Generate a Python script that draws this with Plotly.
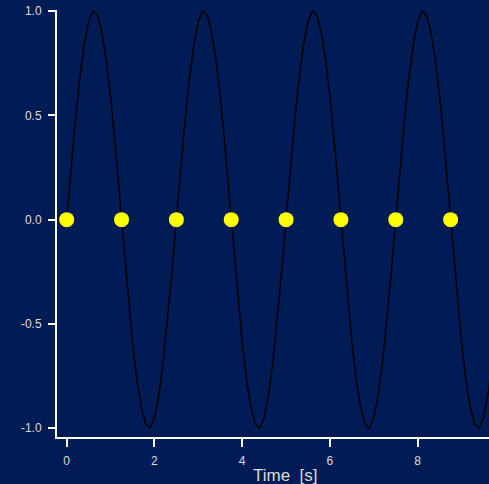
import plotly.graph_objects as go

time_s = [round(i * 0.1, 1) for i in range(101)]
cycle = [0.00, 0.25, 0.48, 0.68, 0.84, 0.95, 1.00, 0.98, 0.90, 0.77, 0.59, 0.37, 0.13,
         -0.13, -0.37, -0.59, -0.77, -0.90, -0.98, -1.00, -0.95, -0.84, -0.68, -0.48, -0.25]
signal = cycle * 4 + [0.00]

# Zero-crossing markers
marker_t = [0.0, 1.25, 2.5, 3.75, 5.0, 6.25, 7.5, 8.75]
marker_y = [0, 0, 0, 0, 0, 0, 0, 0]

x_ticks = [0, 2, 4, 6, 8]
y_ticks = [-1.0, -0.5, 0.0, 0.5, 1.0]
y_tick_labels = ["-1.0", "-0.5", "0.0", "0.5", "1.0"]

BG = "#001b55"
FONT = "Liberation Sans, Arial, sans-serif"

fig = go.Figure()
fig.add_trace(go.Scatter(x=time_s, y=signal, mode="lines",
                         line=dict(color="black", width=1.5), hoverinfo="skip"))
fig.add_trace(go.Scatter(x=marker_t, y=marker_y, mode="markers",
                         marker=dict(color="#ffff00", size=15, line=dict(width=0))))

fig.update_layout(
    width=489, height=484,
    margin=dict(l=57, r=0, t=10, b=47),
    paper_bgcolor=BG, plot_bgcolor=BG,
    showlegend=False,
    font=dict(family=FONT, color="#dcdcdc", size=12),
    xaxis=dict(range=[-0.221, 9.625], tickvals=x_ticks, showgrid=False, zeroline=False,
               showline=True, linecolor="white", linewidth=2,
               ticks="outside", tickcolor="white", tickwidth=2, ticklen=8,
               ticklabelstandoff=4),
    yaxis=dict(range=[-1.042, 1.005], tickvals=y_ticks, ticktext=y_tick_labels,
               showgrid=False, zeroline=False,
               showline=True, linecolor="white", linewidth=2,
               ticks="outside", tickcolor="white", tickwidth=2, ticklen=7,
               ticklabelstandoff=4),
    annotations=[dict(text="Time\u00a0\u00a0[s]", xref="paper", yref="paper",
                      x=0.529, y=0, yshift=-38, xanchor="center", yanchor="middle",
                      showarrow=False, font=dict(size=17, color="#dcdcdc", family=FONT))],
)

fig.write_html("out.html")
